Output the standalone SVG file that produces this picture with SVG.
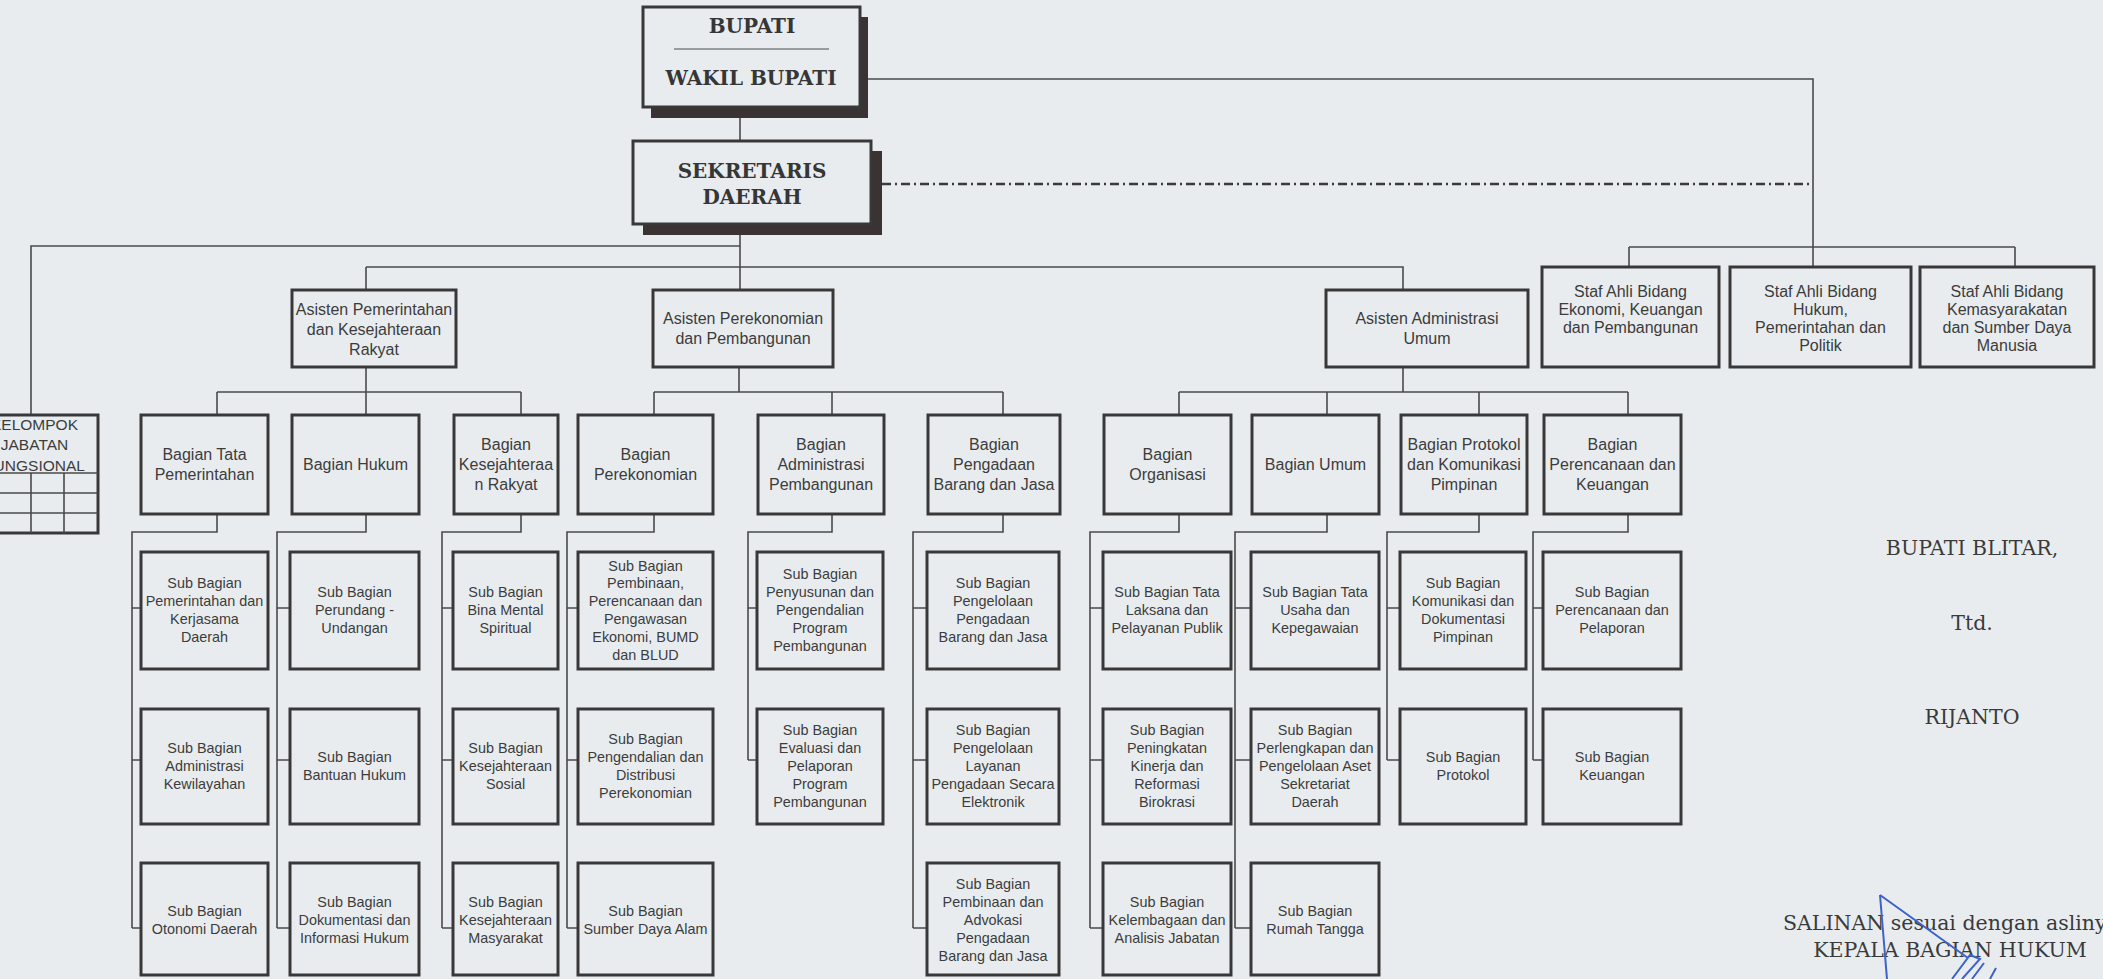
<svg xmlns="http://www.w3.org/2000/svg" width="2103" height="979" viewBox="0 0 2103 979">
<style>
.bg{fill:#e8ecef}
.box{fill:none;stroke:#383838;stroke-width:3}
.conn{fill:none;stroke:#4a4a4a;stroke-width:1.6}
.dd{fill:none;stroke:#3a3a3a;stroke-width:2.6;stroke-dasharray:9 4 2 4}
.shadow{fill:#3b3333}
.hbox{fill:#e8ecef;stroke:#383838;stroke-width:3}
.t{font-family:"Liberation Sans",Arial,sans-serif;fill:#3c3c3c;text-anchor:middle}
.a{font-size:16px}
.s{font-size:14.4px}
.k{font-size:15.5px}
.sb{font-family:"DejaVu Serif","Liberation Serif",serif;font-weight:bold;font-size:20px;fill:#363636;text-anchor:middle}
.sr{font-family:"DejaVu Serif","Liberation Serif",serif;font-size:20.5px;fill:#3a3a3a}
.sig{fill:none;stroke:#3d63c9;stroke-width:2}
</style>
<rect class="bg" x="0" y="0" width="2103" height="979"/>

<g id="connectors">
<path class="conn" d="M868,79 H1813 V267 M1629,247 H2015 M1629,247 V267 M2015,247 V267"/>
<path class="conn" d="M740,118 V141 M740,235 V290 M740,246 H31 V415 M366,267 H1403 V290 M366,267 V290"/>
<path class="dd" d="M882,184 H1811"/>
<path class="conn" d="M366,367 V392 M217,392 H521 M217,392 V415 M366,392 V415 M521,392 V415"/>
<path class="conn" d="M739,367 V392 M654,392 H1003 M654,392 V415 M832,392 V415 M1003,392 V415"/>
<path class="conn" d="M1403,367 V392 M1179,392 H1628 M1179,392 V415 M1327,392 V415 M1479,392 V415 M1628,392 V415"/>
<path class="conn" d="M217,514 V532 H132 V928 M132,608 H141 M132,760 H141 M132,928 H141"/>
<path class="conn" d="M366,514 V532 H277 V928 M277,608 H290 M277,760 H290 M277,928 H290"/>
<path class="conn" d="M521,514 V532 H442 V928 M442,608 H453 M442,760 H453 M442,928 H453"/>
<path class="conn" d="M654,514 V532 H567 V928 M567,608 H578 M567,760 H578 M567,928 H578"/>
<path class="conn" d="M832,514 V532 H748 V760 M748,608 H757 M748,760 H757"/>
<path class="conn" d="M1003,514 V532 H913 V928 M913,608 H927 M913,760 H927 M913,928 H927"/>
<path class="conn" d="M1179,514 V532 H1090 V928 M1090,608 H1103 M1090,760 H1103 M1090,928 H1103"/>
<path class="conn" d="M1327,514 V532 H1235 V928 M1235,608 H1251 M1235,760 H1251 M1235,928 H1251"/>
<path class="conn" d="M1479,514 V532 H1387 V760 M1387,608 H1400 M1387,760 H1400"/>
<path class="conn" d="M1628,514 V532 H1533 V760 M1533,608 H1543 M1533,760 H1543"/>
</g>

<g id="bupati">
<rect class="shadow" x="651" y="17" width="217" height="101"/>
<rect class="hbox" x="643" y="7" width="217" height="100"/>
<text class="sb" x="752" y="33">BUPATI</text>
<line x1="674" y1="49" x2="829" y2="49" stroke="#4a4a4a" stroke-width="1.2"/>
<text class="sb" x="751" y="85">WAKIL BUPATI</text>
</g>

<g id="sekretaris">
<rect class="shadow" x="643" y="151" width="239" height="84"/>
<rect class="hbox" x="633" y="141" width="238" height="83"/>
<text class="sb" x="752" y="178" font-size="20.5">SEKRETARIS</text>
<text class="sb" x="752" y="204" font-size="20.5">DAERAH</text>
</g>

<g id="kelompok">
<rect class="box" x="-40" y="415" width="138" height="118"/>
<path class="conn" d="M0,473 H98 M0,493 H98 M0,513 H98 M31,473 V533 M64,473 V533"/>
<text class="t k" x="34.5" y="429.5"><tspan x="34.5">KELOMPOK</tspan><tspan x="34.5" dy="20.5">JABATAN</tspan><tspan x="34.5" dy="20.5">FUNGSIONAL</tspan></text>
</g>

<g id="asisten-pemerintahan">
<rect class="box" x="292" y="290" width="164" height="77"/>
<text class="t a" x="374" y="314.6"><tspan x="374">Asisten Pemerintahan</tspan><tspan x="374" dy="20">dan Kesejahteraan</tspan><tspan x="374" dy="20">Rakyat</tspan></text>
</g>
<g id="asisten-perekonomian">
<rect class="box" x="653" y="290" width="180" height="77"/>
<text class="t a" x="743" y="323.6"><tspan x="743">Asisten Perekonomian</tspan><tspan x="743" dy="20">dan Pembangunan</tspan></text>
</g>
<g id="asisten-administrasi">
<rect class="box" x="1326" y="290" width="202" height="77"/>
<text class="t a" x="1427" y="323.6"><tspan x="1427">Asisten Administrasi</tspan><tspan x="1427" dy="20">Umum</tspan></text>
</g>

<g id="staf-ekonomi">
<rect class="box" x="1542" y="267" width="177" height="100"/>
<text class="t a" x="1630.5" y="296.6"><tspan x="1630.5">Staf Ahli Bidang</tspan><tspan x="1630.5" dy="18">Ekonomi, Keuangan</tspan><tspan x="1630.5" dy="18">dan Pembangunan</tspan></text>
</g>
<g id="staf-hukum">
<rect class="box" x="1730" y="267" width="181" height="100"/>
<text class="t a" x="1820.5" y="296.6"><tspan x="1820.5">Staf Ahli Bidang</tspan><tspan x="1820.5" dy="18">Hukum,</tspan><tspan x="1820.5" dy="18">Pemerintahan dan</tspan><tspan x="1820.5" dy="18">Politik</tspan></text>
</g>
<g id="staf-kemasyarakatan">
<rect class="box" x="1920" y="267" width="174" height="100"/>
<text class="t a" x="2007" y="296.6"><tspan x="2007">Staf Ahli Bidang</tspan><tspan x="2007" dy="18">Kemasyarakatan</tspan><tspan x="2007" dy="18">dan Sumber Daya</tspan><tspan x="2007" dy="18">Manusia</tspan></text>
</g>

<g id="bagian-tata-pemerintahan">
<rect class="box" x="141" y="415" width="127" height="99"/>
<text class="t a" x="204.5" y="460.1"><tspan x="204.5">Bagian Tata</tspan><tspan x="204.5" dy="20">Pemerintahan</tspan></text>
</g>
<g id="bagian-hukum">
<rect class="box" x="292" y="415" width="127" height="99"/>
<text class="t a" x="355.5" y="470.1">Bagian Hukum</text>
</g>
<g id="bagian-kesejahteraan">
<rect class="box" x="454" y="415" width="104" height="99"/>
<text class="t a" x="506" y="450.1"><tspan x="506">Bagian</tspan><tspan x="506" dy="20">Kesejahteraa</tspan><tspan x="506" dy="20">n Rakyat</tspan></text>
</g>
<g id="bagian-perekonomian">
<rect class="box" x="578" y="415" width="135" height="99"/>
<text class="t a" x="645.5" y="460.1"><tspan x="645.5">Bagian</tspan><tspan x="645.5" dy="20">Perekonomian</tspan></text>
</g>
<g id="bagian-administrasi-pembangunan">
<rect class="box" x="758" y="415" width="126" height="99"/>
<text class="t a" x="821" y="450.1"><tspan x="821">Bagian</tspan><tspan x="821" dy="20">Administrasi</tspan><tspan x="821" dy="20">Pembangunan</tspan></text>
</g>
<g id="bagian-pengadaan">
<rect class="box" x="928" y="415" width="132" height="99"/>
<text class="t a" x="994" y="450.1"><tspan x="994">Bagian</tspan><tspan x="994" dy="20">Pengadaan</tspan><tspan x="994" dy="20">Barang dan Jasa</tspan></text>
</g>
<g id="bagian-organisasi">
<rect class="box" x="1104" y="415" width="127" height="99"/>
<text class="t a" x="1167.5" y="460.1"><tspan x="1167.5">Bagian</tspan><tspan x="1167.5" dy="20">Organisasi</tspan></text>
</g>
<g id="bagian-umum">
<rect class="box" x="1252" y="415" width="127" height="99"/>
<text class="t a" x="1315.5" y="470.1">Bagian Umum</text>
</g>
<g id="bagian-protokol">
<rect class="box" x="1401" y="415" width="126" height="99"/>
<text class="t a" x="1464" y="450.1"><tspan x="1464">Bagian Protokol</tspan><tspan x="1464" dy="20">dan Komunikasi</tspan><tspan x="1464" dy="20">Pimpinan</tspan></text>
</g>
<g id="bagian-perencanaan">
<rect class="box" x="1544" y="415" width="137" height="99"/>
<text class="t a" x="1612.5" y="450.1"><tspan x="1612.5">Bagian</tspan><tspan x="1612.5" dy="20">Perencanaan dan</tspan><tspan x="1612.5" dy="20">Keuangan</tspan></text>
</g>

<g id="sub-pemerintahan-kerjasama">
<rect class="box" x="141" y="552" width="127" height="117"/>
<text class="t s" x="204.5" y="588.3"><tspan x="204.5">Sub Bagian</tspan><tspan x="204.5" dy="17.8">Pemerintahan dan</tspan><tspan x="204.5" dy="17.8">Kerjasama</tspan><tspan x="204.5" dy="17.8">Daerah</tspan></text>
</g>
<g id="sub-administrasi-kewilayahan">
<rect class="box" x="141" y="709" width="127" height="115"/>
<text class="t s" x="204.5" y="753.2"><tspan x="204.5">Sub Bagian</tspan><tspan x="204.5" dy="17.8">Administrasi</tspan><tspan x="204.5" dy="17.8">Kewilayahan</tspan></text>
</g>
<g id="sub-otonomi-daerah">
<rect class="box" x="141" y="863" width="127" height="112"/>
<text class="t s" x="204.5" y="916.1"><tspan x="204.5">Sub Bagian</tspan><tspan x="204.5" dy="17.8">Otonomi Daerah</tspan></text>
</g>

<g id="sub-perundang-undangan">
<rect class="box" x="290" y="552" width="129" height="117"/>
<text class="t s" x="354.5" y="597.2"><tspan x="354.5">Sub Bagian</tspan><tspan x="354.5" dy="17.8">Perundang -</tspan><tspan x="354.5" dy="17.8">Undangan</tspan></text>
</g>
<g id="sub-bantuan-hukum">
<rect class="box" x="290" y="709" width="129" height="115"/>
<text class="t s" x="354.5" y="762.1"><tspan x="354.5">Sub Bagian</tspan><tspan x="354.5" dy="17.8">Bantuan Hukum</tspan></text>
</g>
<g id="sub-dokumentasi-hukum">
<rect class="box" x="290" y="863" width="129" height="112"/>
<text class="t s" x="354.5" y="907.2"><tspan x="354.5">Sub Bagian</tspan><tspan x="354.5" dy="17.8">Dokumentasi dan</tspan><tspan x="354.5" dy="17.8">Informasi Hukum</tspan></text>
</g>

<g id="sub-bina-mental">
<rect class="box" x="453" y="552" width="105" height="117"/>
<text class="t s" x="505.5" y="597.2"><tspan x="505.5">Sub Bagian</tspan><tspan x="505.5" dy="17.8">Bina Mental</tspan><tspan x="505.5" dy="17.8">Spiritual</tspan></text>
</g>
<g id="sub-kesejahteraan-sosial">
<rect class="box" x="453" y="709" width="105" height="115"/>
<text class="t s" x="505.5" y="753.2"><tspan x="505.5">Sub Bagian</tspan><tspan x="505.5" dy="17.8">Kesejahteraan</tspan><tspan x="505.5" dy="17.8">Sosial</tspan></text>
</g>
<g id="sub-kesejahteraan-masyarakat">
<rect class="box" x="453" y="863" width="105" height="112"/>
<text class="t s" x="505.5" y="907.2"><tspan x="505.5">Sub Bagian</tspan><tspan x="505.5" dy="17.8">Kesejahteraan</tspan><tspan x="505.5" dy="17.8">Masyarakat</tspan></text>
</g>

<g id="sub-pembinaan-ekonomi">
<rect class="box" x="578" y="552" width="135" height="117"/>
<text class="t s" x="645.5" y="570.5"><tspan x="645.5">Sub Bagian</tspan><tspan x="645.5" dy="17.8">Pembinaan,</tspan><tspan x="645.5" dy="17.8">Perencanaan dan</tspan><tspan x="645.5" dy="17.8">Pengawasan</tspan><tspan x="645.5" dy="17.8">Ekonomi, BUMD</tspan><tspan x="645.5" dy="17.8">dan BLUD</tspan></text>
</g>
<g id="sub-pengendalian-distribusi">
<rect class="box" x="578" y="709" width="135" height="115"/>
<text class="t s" x="645.5" y="744.3"><tspan x="645.5">Sub Bagian</tspan><tspan x="645.5" dy="17.8">Pengendalian dan</tspan><tspan x="645.5" dy="17.8">Distribusi</tspan><tspan x="645.5" dy="17.8">Perekonomian</tspan></text>
</g>
<g id="sub-sumber-daya-alam">
<rect class="box" x="578" y="863" width="135" height="112"/>
<text class="t s" x="645.5" y="916.1"><tspan x="645.5">Sub Bagian</tspan><tspan x="645.5" dy="17.8">Sumber Daya Alam</tspan></text>
</g>

<g id="sub-penyusunan-program">
<rect class="box" x="757" y="552" width="126" height="117"/>
<text class="t s" x="820" y="579.4"><tspan x="820">Sub Bagian</tspan><tspan x="820" dy="17.8">Penyusunan dan</tspan><tspan x="820" dy="17.8">Pengendalian</tspan><tspan x="820" dy="17.8">Program</tspan><tspan x="820" dy="17.8">Pembangunan</tspan></text>
</g>
<g id="sub-evaluasi-program">
<rect class="box" x="757" y="709" width="126" height="115"/>
<text class="t s" x="820" y="735.4"><tspan x="820">Sub Bagian</tspan><tspan x="820" dy="17.8">Evaluasi dan</tspan><tspan x="820" dy="17.8">Pelaporan</tspan><tspan x="820" dy="17.8">Program</tspan><tspan x="820" dy="17.8">Pembangunan</tspan></text>
</g>

<g id="sub-pengelolaan-pengadaan">
<rect class="box" x="927" y="552" width="132" height="117"/>
<text class="t s" x="993" y="588.3"><tspan x="993">Sub Bagian</tspan><tspan x="993" dy="17.8">Pengelolaan</tspan><tspan x="993" dy="17.8">Pengadaan</tspan><tspan x="993" dy="17.8">Barang dan Jasa</tspan></text>
</g>
<g id="sub-layanan-elektronik">
<rect class="box" x="927" y="709" width="132" height="115"/>
<text class="t s" x="993" y="735.4"><tspan x="993">Sub Bagian</tspan><tspan x="993" dy="17.8">Pengelolaan</tspan><tspan x="993" dy="17.8">Layanan</tspan><tspan x="993" dy="17.8">Pengadaan Secara</tspan><tspan x="993" dy="17.8">Elektronik</tspan></text>
</g>
<g id="sub-pembinaan-advokasi">
<rect class="box" x="927" y="863" width="132" height="112"/>
<text class="t s" x="993" y="889.4"><tspan x="993">Sub Bagian</tspan><tspan x="993" dy="17.8">Pembinaan dan</tspan><tspan x="993" dy="17.8">Advokasi</tspan><tspan x="993" dy="17.8">Pengadaan</tspan><tspan x="993" dy="17.8">Barang dan Jasa</tspan></text>
</g>

<g id="sub-tata-laksana">
<rect class="box" x="1103" y="552" width="128" height="117"/>
<text class="t s" x="1167" y="597.2"><tspan x="1167">Sub Bagian Tata</tspan><tspan x="1167" dy="17.8">Laksana dan</tspan><tspan x="1167" dy="17.8">Pelayanan Publik</tspan></text>
</g>
<g id="sub-kinerja-reformasi">
<rect class="box" x="1103" y="709" width="128" height="115"/>
<text class="t s" x="1167" y="735.4"><tspan x="1167">Sub Bagian</tspan><tspan x="1167" dy="17.8">Peningkatan</tspan><tspan x="1167" dy="17.8">Kinerja dan</tspan><tspan x="1167" dy="17.8">Reformasi</tspan><tspan x="1167" dy="17.8">Birokrasi</tspan></text>
</g>
<g id="sub-kelembagaan">
<rect class="box" x="1103" y="863" width="128" height="112"/>
<text class="t s" x="1167" y="907.2"><tspan x="1167">Sub Bagian</tspan><tspan x="1167" dy="17.8">Kelembagaan dan</tspan><tspan x="1167" dy="17.8">Analisis Jabatan</tspan></text>
</g>

<g id="sub-tata-usaha">
<rect class="box" x="1251" y="552" width="128" height="117"/>
<text class="t s" x="1315" y="597.2"><tspan x="1315">Sub Bagian Tata</tspan><tspan x="1315" dy="17.8">Usaha dan</tspan><tspan x="1315" dy="17.8">Kepegawaian</tspan></text>
</g>
<g id="sub-perlengkapan-aset">
<rect class="box" x="1251" y="709" width="128" height="115"/>
<text class="t s" x="1315" y="735.4"><tspan x="1315">Sub Bagian</tspan><tspan x="1315" dy="17.8">Perlengkapan dan</tspan><tspan x="1315" dy="17.8">Pengelolaan Aset</tspan><tspan x="1315" dy="17.8">Sekretariat</tspan><tspan x="1315" dy="17.8">Daerah</tspan></text>
</g>
<g id="sub-rumah-tangga">
<rect class="box" x="1251" y="863" width="128" height="112"/>
<text class="t s" x="1315" y="916.1"><tspan x="1315">Sub Bagian</tspan><tspan x="1315" dy="17.8">Rumah Tangga</tspan></text>
</g>

<g id="sub-komunikasi-dokumentasi">
<rect class="box" x="1400" y="552" width="126" height="117"/>
<text class="t s" x="1463" y="588.3"><tspan x="1463">Sub Bagian</tspan><tspan x="1463" dy="17.8">Komunikasi dan</tspan><tspan x="1463" dy="17.8">Dokumentasi</tspan><tspan x="1463" dy="17.8">Pimpinan</tspan></text>
</g>
<g id="sub-protokol">
<rect class="box" x="1400" y="709" width="126" height="115"/>
<text class="t s" x="1463" y="762.1"><tspan x="1463">Sub Bagian</tspan><tspan x="1463" dy="17.8">Protokol</tspan></text>
</g>

<g id="sub-perencanaan-pelaporan">
<rect class="box" x="1543" y="552" width="138" height="117"/>
<text class="t s" x="1612" y="597.2"><tspan x="1612">Sub Bagian</tspan><tspan x="1612" dy="17.8">Perencanaan dan</tspan><tspan x="1612" dy="17.8">Pelaporan</tspan></text>
</g>
<g id="sub-keuangan">
<rect class="box" x="1543" y="709" width="138" height="115"/>
<text class="t s" x="1612" y="762.1"><tspan x="1612">Sub Bagian</tspan><tspan x="1612" dy="17.8">Keuangan</tspan></text>
</g>

<g id="signature-block">
<text class="sr" x="1972" y="555" text-anchor="middle">BUPATI BLITAR,</text>
<text class="sr" x="1972" y="630" text-anchor="middle">Ttd.</text>
<text class="sr" x="1972" y="724" text-anchor="middle">RIJANTO</text>
<text class="sr" x="1783" y="930">SALINAN sesuai dengan aslinya</text>
<text class="sr" x="1950" y="957" text-anchor="middle">KEPALA BAGIAN HUKUM</text>
<path class="sig" d="M1880,895 L1887,979 M1880,895 L1968,958 M1952,979 L1970,955 L1980,959 L1962,979 M1972,979 L1984,963 M1990,979 L1996,968"/>
</g>
</svg>
